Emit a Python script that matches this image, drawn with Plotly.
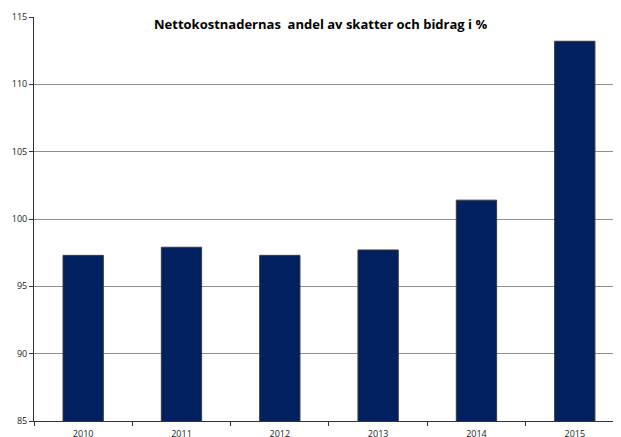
import plotly.graph_objects as go

years = ["2010", "2011", "2012", "2013", "2014", "2015"]
values = [97.3, 97.9, 97.3, 97.7, 101.4, 113.2]
title_text = "Nettokostnadernas  andel av skatter och bidrag i %"

fig = go.Figure(go.Bar(
    x=years, y=values,
    width=0.41,
    marker=dict(color="#002060", line=dict(color="#3a3a3a", width=1)),
))

# page has an 8px body margin; compensate so plot area lands at x 34..621, y 17..421
fig.update_layout(
    width=613, height=429,
    margin=dict(l=26, r=0, t=9, b=16),
    paper_bgcolor="white", plot_bgcolor="white",
    showlegend=False,
    font=dict(family="Open Sans", size=10, color="#222"),
    annotations=[dict(
        text="<b>" + title_text + "</b>",
        x=(320 - 34) / 587, y=1 - (24 - 17) / 404,
        xref="paper", yref="paper", xanchor="center", yanchor="middle",
        showarrow=False, font=dict(family="Open Sans", size=13, color="#000"),
    )],
)

fig.update_xaxes(
    type="category",
    range=[-0.5, 5.47],
    tickson="boundaries",
    ticks="outside", ticklen=4, tickcolor="#333",
    showline=True, linecolor="#333", linewidth=1,
    showgrid=False,
    tickfont=dict(size=9),
    ticklabelstandoff=4,
    automargin=False,
)
fig.update_yaxes(
    range=[85, 115], dtick=5,
    ticks="outside", ticklen=4, tickcolor="#333",
    showline=True, linecolor="#333", linewidth=1,
    showgrid=True, gridcolor="#8f8f8f", gridwidth=1.2,
    zeroline=False,
    tickfont=dict(size=9),
    automargin=False,
)

fig.write_html("out.html")
